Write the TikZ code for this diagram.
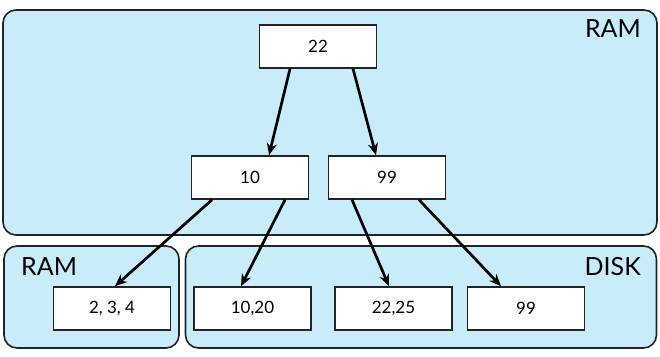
\documentclass[tikz,border=0pt]{standalone}
\usepackage{fontspec}
\setmainfont{Lato}
\definecolor{ramblue}{RGB}{200, 236, 250}
\definecolor{edgegray}{RGB}{35, 35, 35}
\usetikzlibrary{arrows.meta, positioning}

\begin{document}
\begin{tikzpicture}[
  x=1pt, y=-1pt,
  region/.style={draw=edgegray, fill=ramblue, line width=1.6pt, rounded corners=13pt, inner sep=0pt},
  keybox/.style={draw=edgegray, fill=white, line width=1.6pt, minimum width=117pt, minimum height=43pt, inner sep=0pt, font=\fontsize{17}{19}\selectfont},
  tag/.style={inner sep=0pt, font=\fontsize{25}{27}\selectfont},
  link/.style={-{Stealth[length=12pt, width=10pt]}, line width=2.7pt, black}
]
  \useasboundingbox (0,0) rectangle (660,356);

  % memory regions
  \node[region, minimum width=654pt, minimum height=225pt] (ramtop) at (330,122.5) {};
  \node[region, minimum width=175pt, minimum height=102pt] (ramleft) at (91.5,297) {};
  \node[region, minimum width=471pt, minimum height=102pt] (disk) at (421,297) {};
  \node[tag, anchor=east] (ramtoptag) at (641,29) {RAM};
  \node[tag, anchor=west] (ramlefttag) at (21,267) {RAM};
  \node[tag, anchor=east] (disktag) at (641,267) {DISK};

  % tree nodes
  \node[keybox] (k22) at (318,46.5) {22};
  \node[keybox] (k10) at (250,177.5) {10};
  \node[keybox] (k99) at (387,177.5) {99};
  \node[keybox] (l234) at (112,308.5) {2, 3, 4};
  \node[keybox] (l1020) at (252.5,308.5) {10,20};
  \node[keybox] (l2225) at (393.5,308.5) {22,25};
  \node[keybox] (l99) at (526,308.5) {99};

  % pointers
  \draw[link] ([xshift=-28pt]k22.south) -- ([xshift=19pt]k10.north);
  \draw[link] ([xshift=35pt]k22.south) -- ([xshift=-11pt]k99.north);
  \draw[link] ([xshift=-38pt]k10.south) -- ([xshift=3pt]l234.north);
  \draw[link] ([xshift=35pt]k10.south) -- ([xshift=-11.5pt]l1020.north);
  \draw[link] ([xshift=-35pt]k99.south) -- ([xshift=-4.5pt]l2225.north);
  \draw[link] ([xshift=32pt]k99.south) -- ([xshift=-25pt]l99.north);
\end{tikzpicture}
\end{document}
